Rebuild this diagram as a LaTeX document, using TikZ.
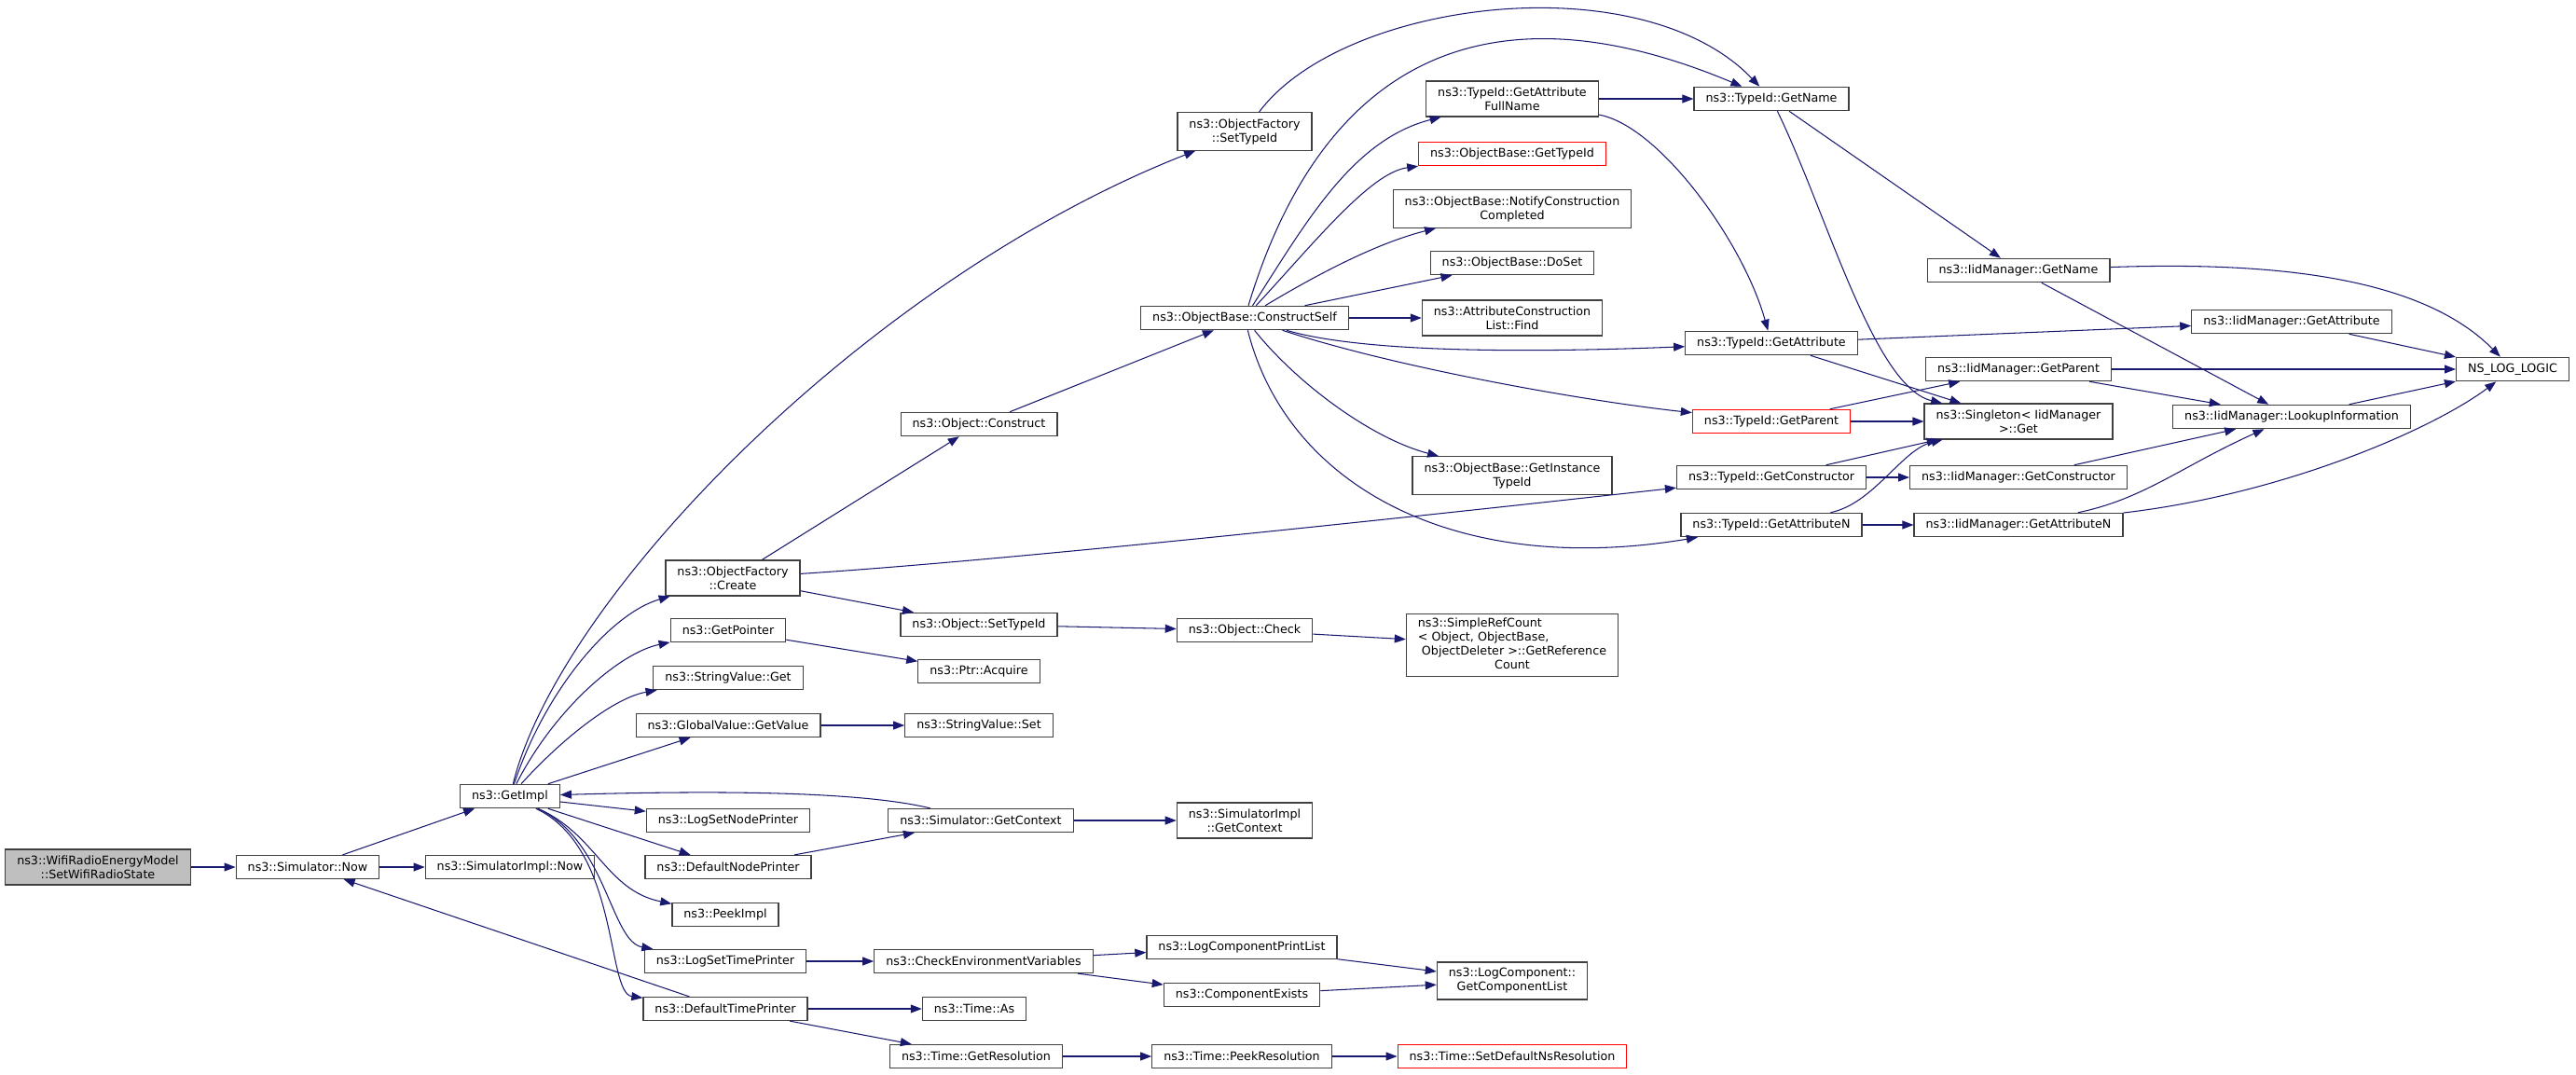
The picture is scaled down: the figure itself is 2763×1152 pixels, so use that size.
\documentclass[tikz,border=0pt]{standalone}
\usepackage{fontspec}
\setmainfont{DejaVu Sans}
\usetikzlibrary{arrows.meta}
\definecolor{edgeblue}{HTML}{191970}
\definecolor{boxgray}{HTML}{404040}
\definecolor{rootfill}{HTML}{BFBFBF}

\begin{document}
\begin{tikzpicture}[x=1pt,y=-1pt,
  fn/.style={draw=boxgray,line width=1.25pt,inner xsep=12.5pt,inner ysep=6.5pt,minimum height=25pt,align=center,font=\fontsize{12.7}{15}\selectfont},
  rootfn/.style={fn,fill=rootfill},
  missfn/.style={fn,draw=red},
  call/.style={draw=edgeblue,line width=1.05pt,-{Triangle[length=12pt,width=9pt]}}]
  \useasboundingbox (0,0) rectangle (2763,1152);
  \node[rootfn] (root) at (105,930) {ns3::WifiRadioEnergyModel\\::SetWifiRadioState};
  \node[fn] (now) at (330,930) {ns3::Simulator::Now};
  \node[fn] (getimpl) at (547,854) {ns3::GetImpl};
  \node[fn] (simnow) at (547,930) {ns3::SimulatorImpl::Now};
  \node[fn] (create) at (786,620) {ns3::ObjectFactory\\::Create};
  \node[fn] (getptr) at (781,676) {ns3::GetPointer};
  \node[fn] (svget) at (781,727) {ns3::StringValue::Get};
  \node[fn] (gvget) at (781,778) {ns3::GlobalValue::GetValue};
  \node[fn] (lsnp) at (781,880) {ns3::LogSetNodePrinter};
  \node[fn] (dnp) at (781,930) {ns3::DefaultNodePrinter};
  \node[fn] (peek) at (778,981) {ns3::PeekImpl};
  \node[fn] (lstp) at (778,1031) {ns3::LogSetTimePrinter};
  \node[fn] (dtp) at (778,1082) {ns3::DefaultTimePrinter};
  \node[fn] (construct) at (1050,455) {ns3::Object::Construct};
  \node[fn] (osettid) at (1050,670) {ns3::Object::SetTypeId};
  \node[fn] (acquire) at (1050,720) {ns3::Ptr::Acquire};
  \node[fn] (svset) at (1050,778) {ns3::StringValue::Set};
  \node[fn] (simctx) at (1052,880) {ns3::Simulator::GetContext};
  \node[fn] (cev) at (1055,1031) {ns3::CheckEnvironmentVariables};
  \node[fn] (tas) at (1045,1082) {ns3::Time::As};
  \node[fn] (getres) at (1047,1133) {ns3::Time::GetResolution};
  \node[fn] (ofsettid) at (1335,141) {ns3::ObjectFactory\\::SetTypeId};
  \node[fn] (cself) at (1335,341) {ns3::ObjectBase::ConstructSelf};
  \node[fn] (check) at (1335,676) {ns3::Object::Check};
  \node[fn] (implctx) at (1335,880) {ns3::SimulatorImpl\\::GetContext};
  \node[fn] (lcpl) at (1332,1016) {ns3::LogComponentPrintList};
  \node[fn] (compex) at (1332,1067) {ns3::ComponentExists};
  \node[fn] (peekres) at (1332,1133) {ns3::Time::PeekResolution};
  \node[fn] (fullname) at (1622,106) {ns3::TypeId::GetAttribute\\FullName};
  \node[missfn] (obtid) at (1622,165) {ns3::ObjectBase::GetTypeId};
  \node[fn] (notify) at (1622,224) {ns3::ObjectBase::NotifyConstruction\\Completed};
  \node[fn] (doset) at (1622,282) {ns3::ObjectBase::DoSet};
  \node[fn] (find) at (1622,341) {ns3::AttributeConstruction\\List::Find};
  \node[fn] (insttid) at (1622,510) {ns3::ObjectBase::GetInstance\\TypeId};
  \node[fn,inner ysep=3.5pt] (refcount) at (1622,692) {\begin{tabular}{@{}l@{}}ns3::SimpleRefCount\\< Object, ObjectBase,\\\ ObjectDeleter >::GetReference\\\multicolumn{1}{@{}c@{}}{Count}\end{tabular}};
  \node[fn] (complist) at (1622,1052) {ns3::LogComponent::\\GetComponentList};
  \node[missfn] (setns) at (1622,1133) {ns3::Time::SetDefaultNsResolution};
  \node[fn] (tname) at (1900,106) {ns3::TypeId::GetName};
  \node[fn] (tattr) at (1900,368) {ns3::TypeId::GetAttribute};
  \node[missfn] (tparent) at (1900,452) {ns3::TypeId::GetParent};
  \node[fn] (tctor) at (1900,512) {ns3::TypeId::GetConstructor};
  \node[fn] (tattrn) at (1900,563) {ns3::TypeId::GetAttributeN};
  \node[fn] (iname) at (2165,290) {ns3::IidManager::GetName};
  \node[fn] (iparent) at (2165,396) {ns3::IidManager::GetParent};
  \node[fn] (single) at (2165,452) {ns3::Singleton< IidManager\\>::Get};
  \node[fn] (ictor) at (2165,512) {ns3::IidManager::GetConstructor};
  \node[fn] (iattrn) at (2165,563) {ns3::IidManager::GetAttributeN};
  \node[fn] (iattr) at (2458,345) {ns3::IidManager::GetAttribute};
  \node[fn] (lookup) at (2458,447) {ns3::IidManager::LookupInformation};
  \node[fn] (nslog) at (2695,396) {NS\_LOG\_LOGIC};

  \draw[call] (root) -- (now);
  \draw[call] (now) -- (getimpl);
  \draw[call] (now) -- (simnow);
  \draw[call] (getimpl) .. controls (600,640) and (930,300) .. (ofsettid);
  \draw[call] (getimpl) .. controls (585,740) and (655,658) .. (create);
  \draw[call] (getimpl) .. controls (595,760) and (665,700) .. (getptr);
  \draw[call] (getimpl) .. controls (605,790) and (660,748) .. (svget);
  \draw[call] (getimpl) -- (gvget);
  \draw[call] (getimpl) -- (lsnp);
  \draw[call] (getimpl) -- (dnp);
  \draw[call] (getimpl) .. controls (640,895) and (650,955) .. (peek);
  \draw[call] (getimpl) .. controls (650,900) and (655,1010) .. (lstp);
  \draw[call] (getimpl) .. controls (665,910) and (650,1065) .. (dtp);
  \draw[call] (simctx) .. controls (920,848) and (760,848) .. (getimpl);
  \draw[call] (dtp) -- (now);
  \draw[call] (create) -- (construct);
  \draw[call] (create) -- (osettid);
  \draw[call] (create) .. controls (1100,600) and (1600,545) .. (tctor);
  \draw[call] (getptr) -- (acquire);
  \draw[call] (gvget) -- (svset);
  \draw[call] (dnp) -- (simctx);
  \draw[call] (simctx) -- (implctx);
  \draw[call] (lstp) -- (cev);
  \draw[call] (dtp) -- (tas);
  \draw[call] (dtp) -- (getres);
  \draw[call] (construct) -- (cself);
  \draw[call] (osettid) -- (check);
  \draw[call] (check) -- (refcount);
  \draw[call] (cev) -- (lcpl);
  \draw[call] (cev) -- (compex);
  \draw[call] (lcpl) -- (complist);
  \draw[call] (compex) -- (complist);
  \draw[call] (getres) -- (peekres);
  \draw[call] (peekres) -- (setns);
  \draw[call] (ofsettid) .. controls (1440,0) and (1760,-40) .. (tname);
  \draw[call] (cself) .. controls (1420,60) and (1600,-20) .. (tname);
  \draw[call] (cself) .. controls (1400,240) and (1450,150) .. (fullname);
  \draw[call] (cself) .. controls (1410,260) and (1470,185) .. (obtid);
  \draw[call] (cself) .. controls (1420,290) and (1480,260) .. (notify);
  \draw[call] (cself) -- (doset);
  \draw[call] (cself) -- (find);
  \draw[call] (cself) .. controls (1450,375) and (1600,380) .. (tattr);
  \draw[call] (cself) .. controls (1500,395) and (1700,430) .. (tparent);
  \draw[call] (cself) .. controls (1390,410) and (1470,470) .. (insttid);
  \draw[call] (cself) .. controls (1380,520) and (1560,620) .. (tattrn);
  \draw[call] (fullname) -- (tname);
  \draw[call] (fullname) .. controls (1780,135) and (1870,260) .. (tattr);
  \draw[call] (tname) -- (iname);
  \draw[call] (tname) .. controls (1960,230) and (2010,415) .. (single);
  \draw[call] (tattr) -- (iattr);
  \draw[call] (tattr) -- (single);
  \draw[call] (tparent) -- (iparent);
  \draw[call] (tparent) -- (single);
  \draw[call] (tctor) -- (single);
  \draw[call] (tctor) -- (ictor);
  \draw[call] (tattrn) .. controls (2010,540) and (2040,482) .. (single);
  \draw[call] (tattrn) -- (iattrn);
  \draw[call] (iname) .. controls (2450,280) and (2600,300) .. (nslog);
  \draw[call] (iname) -- (lookup);
  \draw[call] (iattr) -- (nslog);
  \draw[call] (iparent) -- (nslog);
  \draw[call] (iparent) -- (lookup);
  \draw[call] (ictor) -- (lookup);
  \draw[call] (iattrn) .. controls (2300,535) and (2340,500) .. (lookup);
  \draw[call] (iattrn) .. controls (2450,530) and (2610,460) .. (nslog);
  \draw[call] (lookup) -- (nslog);
\end{tikzpicture}
\end{document}
